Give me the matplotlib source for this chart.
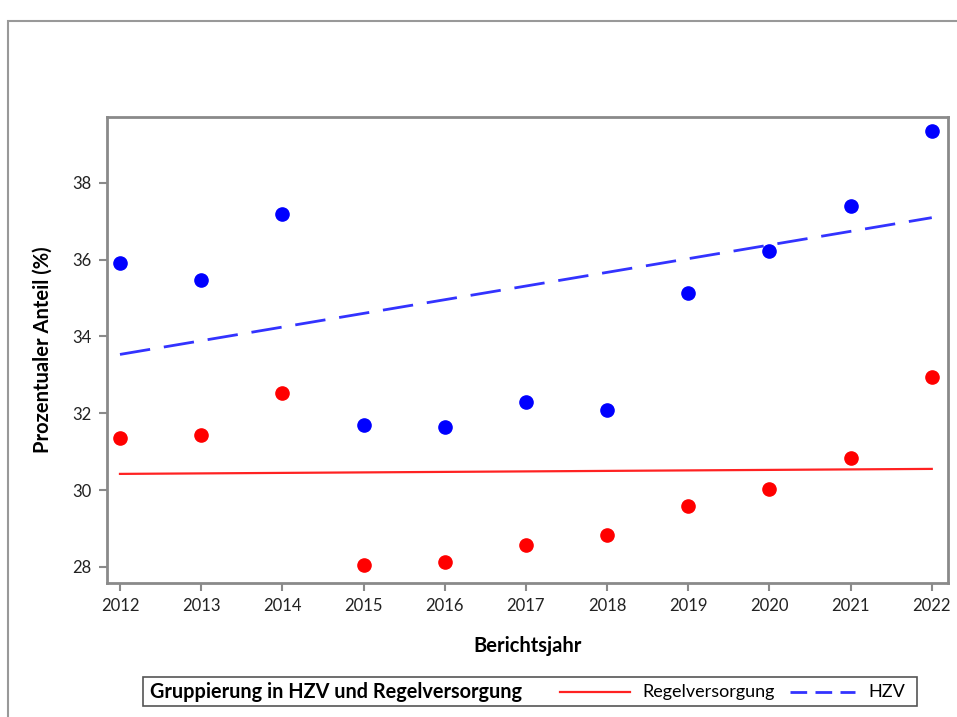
import numpy as np
import matplotlib.pyplot as plt
from matplotlib.lines import Line2D
from matplotlib.patches import Rectangle

years = np.arange(2012, 2023)
hzv = [35.92, 35.48, 37.19, 31.69, 31.64, 32.29, 32.08, 35.14, 36.21, 37.40, 39.35]
regel = [31.35, 31.43, 32.52, 28.05, 28.13, 28.57, 28.83, 29.58, 30.03, 30.83, 32.94]
# trend lines (start 2012, end 2022)
hzv_trend = [33.53, 37.09]
regel_trend = [30.42, 30.55]
trend_years = [2012, 2022]

plt.rcParams['font.family'] = ['Lato', 'DejaVu Sans']

fig = plt.figure(figsize=(9.57, 7.17), dpi=100)
ax = fig.add_axes([0.1118, 0.1869, 0.8788, 0.6499])

frame_col = '#8a8a8a'
ax.plot(years, hzv, 'o', color='#0000ff', ms=9.5, zorder=3)
ax.plot(years, regel, 'o', color='#ff0000', ms=9.5, zorder=3)
ax.plot(trend_years, hzv_trend, color='#3333ff', lw=2, dashes=(11, 5))
ax.plot(trend_years, regel_trend, color='#ff2222', lw=1.6)

ax.set_xlim(2011.84, 2022.2)
ax.set_ylim(27.58, 39.71)
ax.set_xticks(years)
ax.set_yticks([28, 30, 32, 34, 36, 38])
for s in ax.spines.values():
    s.set_color(frame_col)
    s.set_linewidth(2)
ax.tick_params(length=6, width=1.5, color=frame_col, labelsize=12, labelcolor='#222222', pad=5)

ax.set_xlabel('Berichtsjahr', fontsize=14.5, fontweight='bold', labelpad=16)
ax.set_ylabel('Prozentualer Anteil (%)', fontsize=14.5, fontweight='bold', labelpad=14)

# outer frame
fig.patches.append(Rectangle((0.0084, -0.05), 1.2, 1.0207, transform=fig.transFigure,
                             fill=False, edgecolor='#999999', lw=1.5))

# legend box at the bottom
fig.patches.append(Rectangle((0.1494, 0.0153), 0.8088, 0.0405, transform=fig.transFigure,
                             fill=False, edgecolor='#555555', lw=1.2))
ly = 0.0355
fig.text(0.1567, ly, 'Gruppierung in HZV und Regelversorgung', fontsize=14.3, fontweight='bold',
         va='center')
fig.lines.append(Line2D([0.585, 0.658], [ly, ly], transform=fig.transFigure, color='#ff2222', lw=1.6))
fig.text(0.671, ly, 'Regelversorgung', fontsize=13, va='center')
fig.lines.append(Line2D([0.8255, 0.893], [ly, ly], transform=fig.transFigure, color='#3333ff', lw=2,
                        dashes=(6, 3)))
fig.text(0.907, ly, 'HZV', fontsize=13, va='center')

fig.savefig('out.png', dpi=100)
